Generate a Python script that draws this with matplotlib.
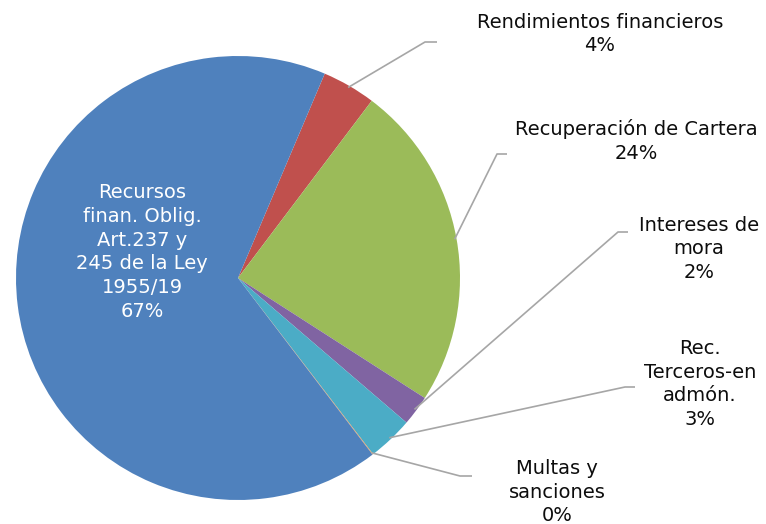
import numpy as np
import matplotlib
matplotlib.use("Agg")
import matplotlib.pyplot as plt

# slices, clockwise from the red one
labels = ["Rendimientos financieros", "Recuperación de Cartera", "Intereses de\nmora",
          "Rec.\nTerceros-en\nadmón.", "Multas y\nsanciones",
          "Recursos\nfinan. Oblig.\nArt.237 y\n245 de la Ley\n1955/19"]
values = [3.9, 23.8, 2.2, 3.3, 0.05, 66.75]
pct_text = ["4%", "24%", "2%", "3%", "0%", "67%"]
colors = ["#C0504D", "#9BBB59", "#8064A2", "#4BACC6", "#F79646", "#4F81BD"]

W, H = 766, 524


def img(x, y):
    # image pixel coords (y down) -> axes coords (y up)
    return x, H - y


fig = plt.figure(figsize=(W / 100, H / 100), dpi=100)
ax = fig.add_axes([0, 0, 1, 1])

cx, cy = img(238, 278)
R = 222
wedges, _ = ax.pie(values, colors=colors, startangle=67, counterclock=False,
                   center=(cx, cy), radius=R, frame=True,
                   wedgeprops=dict(linewidth=0))
ax.set_xlim(0, W)
ax.set_ylim(0, H)
ax.axis("off")

# (elbow x, elbow y, end x, text x, text y center) in image pixels
layout = [
    (425, 42, 437, 600, 34),
    (497, 154, 507, 636, 141),
    (618, 232, 628, 699, 249),
    (625, 387, 635, 700, 384),
    (460, 476, 472, 557, 492),
]
fs = 14
ls = 1.32
for w, lab, pt, lay in zip(wedges[:5], labels[:5], pct_text[:5], layout):
    mid = np.deg2rad((w.theta1 + w.theta2) / 2)
    sx = cx + (R - 2) * np.cos(mid)
    sy = cy + (R - 2) * np.sin(mid)
    ex, ey = img(lay[0], lay[1])
    fx, _ = img(lay[2], lay[1])
    ax.plot([sx, ex, fx], [sy, ey, ey], color="#A6A6A6", lw=1.2,
            solid_capstyle="butt", zorder=3)
    tx, ty = img(lay[3], lay[4])
    ax.text(tx, ty, lab + "\n" + pt, ha="center", va="center", fontsize=fs,
            color="#0D0D0D", linespacing=ls, family="DejaVu Sans")

tx, ty = img(142, 252)
ax.text(tx, ty, labels[5] + "\n" + pct_text[5], ha="center", va="center",
        fontsize=fs, color="white", linespacing=ls, family="DejaVu Sans")

fig.savefig("out.png", dpi=100)
